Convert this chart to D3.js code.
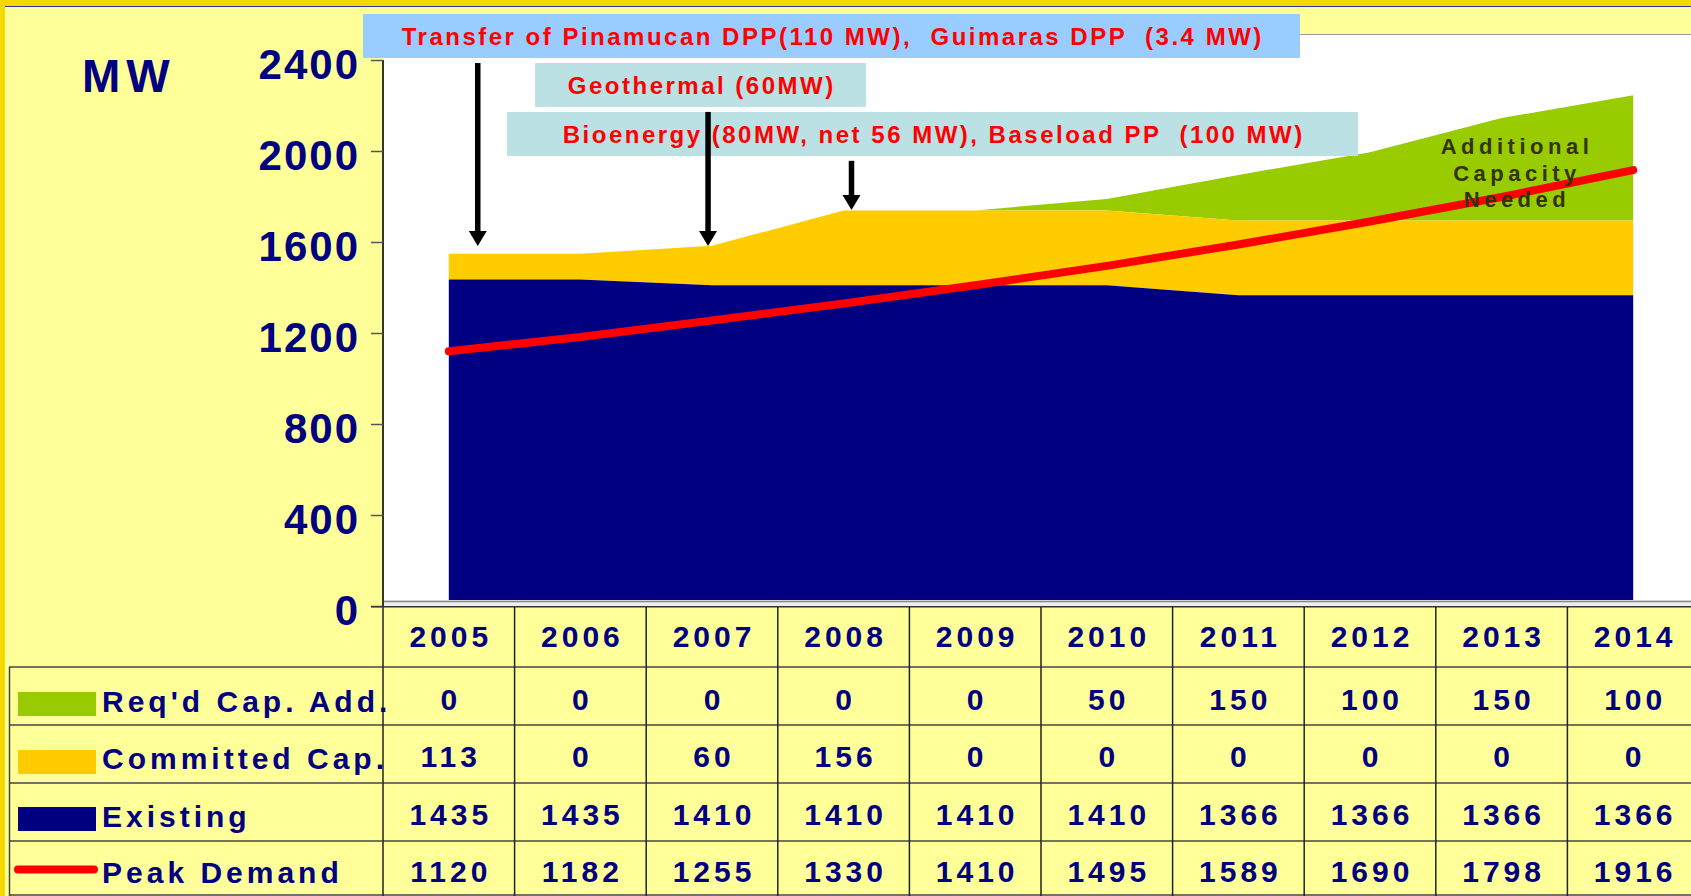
<!DOCTYPE html>
<html><head><meta charset="utf-8">
<script src="https://cdn.jsdelivr.net/npm/d3@7"></script>
<style>html,body{margin:0;padding:0;overflow:hidden;background:#FFFF99}</style>
</head><body><svg id="c" width="1691" height="896"></svg>
<script>
const years = [2005, 2006, 2007, 2008, 2009, 2010, 2011, 2012, 2013, 2014];
const reqdCapAdd = [0, 0, 0, 0, 0, 50, 150, 100, 150, 100];
const committedCap = [113, 0, 60, 156, 0, 0, 0, 0, 0, 0];
const existing = [1435, 1435, 1410, 1410, 1410, 1410, 1366, 1366, 1366, 1366];
const peakDemand = [1120, 1182, 1255, 1330, 1410, 1495, 1589, 1690, 1798, 1916];
const yTicks = [0, 400, 800, 1200, 1600, 2000, 2400];
const rowLabels = ["Req'd Cap. Add.", "Committed Cap.", "Existing", "Peak Demand"];
const boxTexts = ["Transfer of Pinamucan DPP(110 MW),  Guimaras DPP  (3.4 MW)", "Geothermal (60MW)", "Bioenergy (80MW, net 56 MW), Baseload PP  (100 MW)"];
const noteLines = ["Additional", "Capacity", "Needed"];
// arrows: year, offset (in columns), top value, tip value
const arrowYears = [2005, 2007, 2008];
const arrowOffsets = [0.22, -0.03, 0.06];
const arrowTopValues = [2400, 2185, 1970];
const arrowTipValues = [1582, 1582, 1741];

const NAVY = "#000080", YEL = "#FFCC00", GRN = "#99CC00", RED = "#FF0000";
const FONT = "'Liberation Sans', Arial, sans-serif";
const svg = d3.select("#c");

const x = d3.scaleBand().domain(years).range([383, 1699]).padding(0);
const xc = yr => x(yr) + x.bandwidth() / 2;
const y = d3.scaleLinear().domain([0, 2400]).range([606, 60]);

// background / border
svg.append("rect").attr("x", 0).attr("y", 0).attr("width", 1691).attr("height", 896).attr("fill", "#FFFF99");
svg.append("rect").attr("x", 0).attr("y", 0).attr("width", 1691).attr("height", 6).attr("fill", "#F5D800");
svg.append("rect").attr("x", 0).attr("y", 0).attr("width", 5).attr("height", 896).attr("fill", "#F5D800");
svg.append("line").attr("x1", 5).attr("x2", 1691).attr("y1", 6.5).attr("y2", 6.5).attr("stroke", "#3333AA").attr("stroke-width", 1);

// plot area
svg.append("rect").attr("x", 384).attr("y", 34).attr("width", 1691 - 384).attr("height", 606 - 34).attr("fill", "#FFFFFF");
svg.append("line").attr("x1", 384).attr("x2", 1691).attr("y1", 34.5).attr("y2", 34.5).attr("stroke", "#999").attr("stroke-width", 1);

// stacks
const cumC = d3.cumsum(committedCap);
const cumR = d3.cumsum(reqdCapAdd);
const data = years.map((yr, i) => ({
  yr, e: existing[i], c: existing[i] + cumC[i], r: existing[i] + cumC[i] + cumR[i], p: peakDemand[i]
}));
const area = (lo, hi) => d3.area().x(d => xc(d.yr)).y0(d => y(lo(d))).y1(d => y(hi(d)));
svg.append("path").datum(data).attr("d", area(d => d.c, d => d.r)).attr("fill", GRN);
svg.append("path").datum(data).attr("d", area(d => d.e, d => d.c)).attr("fill", YEL);
svg.append("path").datum(data).attr("d", area(d => 0, d => d.e)).attr("fill", NAVY);

// floor strip
svg.append("rect").attr("x", 384).attr("y", 600).attr("width", 1691 - 384).attr("height", 6).attr("fill", "#EEEEEE");
svg.append("line").attr("x1", 384).attr("x2", 1691).attr("y1", 601.5).attr("y2", 601.5).attr("stroke", "#888").attr("stroke-width", 1.5);

// peak demand line
svg.append("path").datum(data)
  .attr("d", d3.line().x(d => xc(d.yr)).y(d => y(d.p)))
  .attr("fill", "none").attr("stroke", RED).attr("stroke-width", 8)
  .attr("stroke-linecap", "round").attr("stroke-linejoin", "round");

// note
const nls = 4.5;
svg.append("text").attr("font-family", FONT).attr("font-weight", "bold").attr("font-size", 22)
  .attr("letter-spacing", nls).attr("fill", "#333300").attr("text-anchor", "middle")
  .selectAll("tspan").data(noteLines).join("tspan")
  .attr("x", xc(2013) + 0.1 * x.step() + nls / 2).attr("y", (d, i) => 154 + i * 26.5).text(d => d);

// y axis
svg.append("line").attr("x1", 383).attr("x2", 383).attr("y1", y(2400)).attr("y2", 607).attr("stroke", "#333").attr("stroke-width", 2);
svg.selectAll(".tk").data(yTicks).join("line").attr("x1", 371).attr("x2", 383)
  .attr("y1", d => y(d) + 0.5).attr("y2", d => y(d) + 0.5).attr("stroke", "#555").attr("stroke-width", 1.5);
svg.selectAll(".tl").data(yTicks).join("text").attr("x", 360).attr("y", d => y(d) + 18.5)
  .attr("text-anchor", "end").attr("font-family", FONT).attr("font-weight", "bold").attr("font-size", 42)
  .attr("letter-spacing", 2).attr("fill", NAVY).text(d => d);
svg.append("text").attr("x", 82).attr("y", 92).attr("font-family", FONT).attr("font-weight", "bold")
  .attr("font-size", 46).attr("letter-spacing", 6).attr("fill", NAVY).text("MW");

// annotation boxes
const boxes = [
  {x0: 363, x1: 1300, y0: 14, y1: 58, fill: "#99CCFF", base: 45},
  {x0: 535, x1: 866, y0: 63, y1: 107, fill: "#BBE1E4", base: 94},
  {x0: 507, x1: 1358, y0: 112, y1: 156, fill: "#BBE1E4", base: 143}
];
const bls = 2.5;
boxes.forEach((b, i) => {
  svg.append("rect").attr("x", b.x0).attr("y", b.y0).attr("width", b.x1 - b.x0).attr("height", b.y1 - b.y0).attr("fill", b.fill);
  svg.append("text").attr("x", (b.x0 + b.x1) / 2 + bls / 2 + (i === 2 ? 0 : 0)).attr("y", b.base)
    .attr("text-anchor", "middle").attr("font-family", FONT).attr("font-weight", "bold").attr("font-size", 24)
    .attr("letter-spacing", bls).attr("fill", RED).style("white-space", "pre").text(boxTexts[i]);
});

// arrows
arrowYears.forEach((yr, i) => {
  const ax = xc(yr) + arrowOffsets[i] * x.step();
  const top = y(arrowTopValues[i]) + 3, tip = y(arrowTipValues[i]);
  svg.append("line").attr("x1", ax).attr("x2", ax).attr("y1", top).attr("y2", tip - 12).attr("stroke", "#000").attr("stroke-width", 5.5);
  svg.append("path").attr("d", `M${ax - 9},${tip - 15}L${ax + 9},${tip - 15}L${ax},${tip}Z`).attr("fill", "#000");
});

// x axis line + table
svg.append("line").attr("x1", 371).attr("x2", 1691).attr("y1", 606.8).attr("y2", 606.8).attr("stroke", "#333").attr("stroke-width", 1.5);
const rowLines = [667, 725, 783, 841, 895];
svg.selectAll(".hl").data(rowLines).join("line").attr("x1", 9).attr("x2", 1691)
  .attr("y1", d => d).attr("y2", d => d).attr("stroke", "#444").attr("stroke-width", 1.5);
svg.append("line").attr("x1", 9.5).attr("x2", 9.5).attr("y1", 667).attr("y2", 896).attr("stroke", "#444").attr("stroke-width", 1.5);
svg.selectAll(".vl").data(years).join("line").attr("x1", d => x(d)).attr("x2", d => x(d))
  .attr("y1", 607).attr("y2", 896).attr("stroke", "#222").attr("stroke-width", 1.5);

const tls = 4;
const tt = sel => sel.attr("font-family", FONT).attr("font-weight", "bold").attr("font-size", 30).attr("letter-spacing", tls).attr("fill", NAVY);
svg.selectAll(".yl").data(years).join("text").call(tt).attr("text-anchor", "middle")
  .attr("x", d => xc(d) + tls / 2).attr("y", 647).text(d => d);

const rows = [reqdCapAdd, committedCap, existing, peakDemand];
const valBase = [710, 767, 825, 882];
const labBase = [712, 769, 827, 883];
rows.forEach((vals, r) => {
  svg.selectAll(".v" + r).data(vals).join("text").call(tt).attr("text-anchor", "middle")
    .attr("x", (d, i) => xc(years[i]) + tls / 2).attr("y", valBase[r]).text(d => d);
  svg.append("text").call(tt).attr("x", 102).attr("y", labBase[r]).text(rowLabels[r]);
});
// legend keys
const swCol = [GRN, YEL, NAVY];
const swY = [692, 750, 807];
swCol.forEach((c, i) => svg.append("rect").attr("x", 18).attr("y", swY[i]).attr("width", 78).attr("height", 24).attr("fill", c));
svg.append("line").attr("x1", 18).attr("x2", 94).attr("y1", 869.5).attr("y2", 869.5).attr("stroke", RED).attr("stroke-width", 8).attr("stroke-linecap", "round");
</script></body></html>
